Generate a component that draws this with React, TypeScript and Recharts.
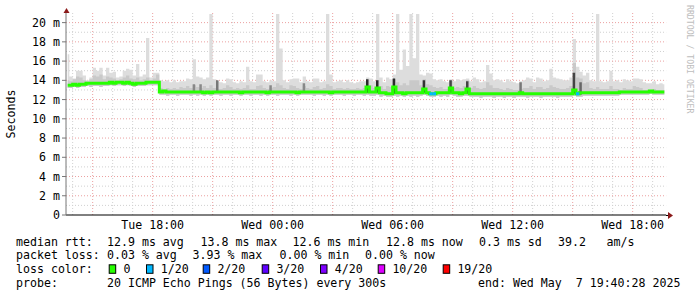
import { ComposedChart, Area, Bar, Line, Cell, XAxis, YAxis, CartesianGrid } from "recharts";

const FONT = '"DejaVu Sans Mono", monospace';

// hours since Tue 00:00, one sample every 10 minutes from Tue 13:40 to Wed 19:40
const START = 13 + 40 / 60;
const END = 43 + 40 / 60 + 28 / 3600;

const median = [
  13.5, 13.5, 13.6, 13.5, 13.6, 13.6, 13.7, 13.7, 13.7, 13.7, 13.7, 13.7, 13.7, 13.8, 13.7, 13.8, 13.8, 13.7,
  13.8, 13.7, 13.6, 13.7, 13.7, 13.7, 13.8, 13.8, 13.8, 13.8, 12.8, 12.9, 12.8, 12.8, 12.8, 12.8, 12.8, 12.8,
  12.8, 12.8, 12.8, 12.8, 12.8, 12.7, 12.8, 12.7, 12.8, 12.8, 12.8, 12.8, 12.8, 12.8, 12.8, 12.8, 12.7, 12.8,
  12.8, 12.8, 12.8, 12.8, 12.8, 12.8, 12.7, 12.8, 12.8, 12.8, 12.8, 12.8, 12.8, 12.8, 12.8, 12.7, 12.8, 12.8,
  12.8, 12.8, 12.8, 12.8, 12.8, 12.8, 12.8, 12.7, 12.8, 12.8, 12.8, 12.8, 12.8, 12.8, 12.8, 12.8, 12.8, 12.8,
  13.3, 12.8, 12.8, 13.2, 12.7, 12.7, 12.6, 12.6, 13.3, 12.7, 12.7, 12.6, 12.7, 12.7, 12.7, 12.7, 12.7, 13.1,
  12.7, 12.6, 12.6, 12.7, 12.7, 12.7, 12.7, 13.2, 12.7, 12.7, 12.6, 12.7, 13.1, 12.6, 12.6, 12.6, 12.6, 12.6,
  12.6, 12.6, 12.6, 12.6, 12.6, 12.6, 12.6, 12.6, 12.6, 12.6, 12.7, 12.6, 12.6, 12.6, 12.6, 12.6, 12.6, 12.6,
  12.6, 12.6, 12.6, 12.6, 12.6, 12.6, 12.6, 12.6, 13.0, 12.6, 12.7, 12.7, 12.7, 12.7, 12.7, 12.7, 12.7, 12.7,
  12.7, 12.7, 12.7, 12.7, 12.8, 12.8, 12.8, 12.8, 12.8, 12.8, 12.8, 12.8, 12.8, 12.9, 12.8, 12.8, 12.8, 12.8,
];

const smokeMax = [
  16.7, 14.4, 14.2, 15.0, 15.0, 14.5, 14.0, 14.3, 15.3, 15.0, 15.3, 14.5, 15.3, 14.8, 14.9, 14.3, 14.4, 15.0,
  15.2, 15.1, 14.5, 15.7, 14.4, 14.6, 18.4, 14.3, 14.8, 14.8, 14.0, 13.9, 14.0, 13.8, 14.0, 13.8, 13.9, 13.9,
  14.2, 14.1, 16.2, 14.4, 14.3, 14.1, 14.3, 20.9, 14.1, 13.9, 13.8, 13.7, 14.2, 14.1, 13.8, 13.7, 13.9, 13.8,
  15.4, 13.9, 13.8, 14.6, 14.6, 13.9, 13.8, 14.0, 13.9, 20.9, 17.3, 14.0, 13.8, 14.1, 14.2, 14.2, 13.8, 14.4,
  13.9, 13.8, 14.2, 14.2, 13.8, 13.9, 20.9, 14.6, 13.8, 13.9, 14.0, 13.8, 14.0, 13.8, 13.7, 13.8, 13.9, 13.9,
  14.3, 14.2, 13.9, 20.9, 14.3, 13.8, 14.3, 14.1, 14.6, 20.9, 15.1, 17.2, 15.5, 20.9, 16.3, 20.9, 14.6, 14.5,
  14.8, 14.7, 14.1, 14.0, 14.1, 13.9, 13.8, 14.1, 13.9, 14.1, 14.0, 14.1, 14.2, 13.9, 14.3, 14.1, 13.8, 13.9,
  15.6, 14.7, 14.0, 14.1, 14.0, 13.8, 14.1, 13.9, 13.8, 13.7, 13.9, 14.0, 14.3, 14.2, 13.8, 14.3, 14.2, 13.9,
  14.0, 15.2, 14.3, 14.2, 14.1, 14.0, 14.0, 14.3, 18.3, 15.4, 14.9, 14.5, 14.8, 14.0, 13.9, 20.9, 13.9, 13.8,
  13.9, 15.0, 13.9, 14.0, 13.8, 14.1, 14.0, 13.9, 14.2, 14.2, 14.1, 13.8, 13.7, 13.7, 13.9, 13.6, 13.7, 13.6,
];

const smokeQ3 = [
  14.0, 13.9, 14.1, 14.4, 14.3, 14.0, 13.9, 14.1, 14.5, 14.4, 14.6, 14.1, 14.4, 14.3, 14.2, 14.0, 14.1, 14.3,
  14.5, 14.2, 14.1, 14.3, 14.0, 14.1, 14.3, 14.0, 14.2, 14.6, 13.2, 13.1, 13.2, 13.1, 13.2, 13.1, 13.3, 13.2,
  13.4, 13.2, 13.5, 13.3, 13.2, 13.4, 13.2, 13.5, 13.2, 13.1, 13.1, 13.2, 13.5, 13.3, 13.1, 13.2, 13.1, 13.2,
  13.5, 13.1, 13.1, 13.4, 13.5, 13.2, 13.1, 13.2, 13.3, 13.7, 13.5, 13.2, 13.1, 13.5, 13.4, 13.2, 13.1, 13.4,
  13.2, 13.1, 13.3, 13.4, 13.1, 13.2, 13.6, 13.4, 13.1, 13.2, 13.2, 13.1, 13.2, 13.1, 13.1, 13.2, 13.1, 13.2,
  14.0, 13.5, 13.2, 14.0, 13.4, 13.1, 13.4, 13.3, 14.1, 13.8, 13.5, 13.7, 13.5, 14.0, 14.0, 14.0, 13.5, 14.1,
  13.6, 13.5, 13.3, 13.2, 13.3, 13.1, 13.1, 14.0, 13.2, 13.3, 13.2, 13.4, 14.0, 13.2, 13.4, 13.2, 13.1, 13.2,
  13.8, 13.5, 13.2, 13.2, 13.1, 13.0, 13.2, 13.1, 13.0, 13.0, 13.1, 13.2, 13.2, 13.4, 13.1, 13.3, 13.3, 13.1,
  13.2, 13.5, 13.3, 13.2, 13.1, 13.1, 13.2, 13.4, 15.8, 14.3, 14.2, 13.7, 13.8, 13.2, 13.1, 13.3, 13.1, 13.1,
  13.1, 13.4, 13.1, 13.1, 13.0, 13.2, 13.1, 13.1, 13.4, 13.3, 13.2, 13.0, 13.0, 13.0, 13.1, 13.0, 13.0, 13.0,
];

const smokeMin = [
  13.2, 13.2, 13.3, 13.2, 13.3, 13.3, 13.4, 13.3, 13.4, 13.4, 13.3, 13.4, 13.4, 13.5, 13.4, 13.5, 13.5, 13.4,
  13.5, 13.4, 13.3, 13.4, 13.4, 13.4, 13.5, 13.5, 13.5, 13.5, 12.5, 12.5, 12.4, 12.5, 12.5, 12.4, 12.5, 12.5,
  12.5, 12.4, 12.5, 12.4, 12.5, 12.4, 12.5, 12.4, 12.5, 12.5, 12.4, 12.5, 12.5, 12.4, 12.5, 12.5, 12.4, 12.5,
  12.5, 12.4, 12.5, 12.5, 12.4, 12.5, 12.4, 12.5, 12.5, 12.4, 12.5, 12.5, 12.5, 12.4, 12.5, 12.4, 12.5, 12.5,
  12.5, 12.5, 12.4, 12.5, 12.5, 12.4, 12.5, 12.4, 12.5, 12.5, 12.5, 12.4, 12.5, 12.5, 12.4, 12.5, 12.5, 12.4,
  12.5, 12.4, 12.4, 12.5, 12.3, 12.4, 12.3, 12.3, 12.4, 12.3, 12.4, 12.3, 12.4, 12.3, 12.4, 12.3, 12.4, 12.5,
  12.4, 12.3, 12.3, 12.4, 12.3, 12.4, 12.3, 12.5, 12.4, 12.3, 12.3, 12.4, 12.4, 12.3, 12.3, 12.3, 12.2, 12.3,
  12.3, 12.3, 12.2, 12.3, 12.3, 12.2, 12.3, 12.3, 12.2, 12.3, 12.3, 12.3, 12.2, 12.3, 12.3, 12.3, 12.2, 12.3,
  12.3, 12.3, 12.3, 12.2, 12.3, 12.3, 12.3, 12.3, 12.4, 12.3, 12.3, 12.4, 12.4, 12.4, 12.4, 12.4, 12.4, 12.4,
  12.4, 12.4, 12.4, 12.4, 12.5, 12.5, 12.5, 12.5, 12.5, 12.5, 12.5, 12.5, 12.5, 12.6, 12.5, 12.5, 12.5, 12.5,
];

// dense smoke around the median (sample index, top value, shade)
const darkIdx = [38, 40, 45, 61, 71, 90, 93, 98, 107, 115, 120, 136, 152, 154];
const darkTop = [13.6, 13.6, 14.0, 13.5, 13.7, 14.1, 14.0, 14.2, 14.0, 14.0, 13.9, 13.8, 14.8, 13.8];
const darkShade = ["#888", "#888", "#777", "#888", "#888", "#2a2a2a", "#2a2a2a", "#2a2a2a", "#333", "#444", "#444", "#777", "#444", "#666"];

// samples with packet loss (index, lost pings of 20)
const lossIdx = [109, 110, 153];
const lossCount = [1, 1, 1];

const lossLabels = ["0", "1/20", "2/20", "3/20", "4/20", "10/20", "19/20"];
const lossColors = ["#26ff00", "#00b8ff", "#0059ff", "#5e00ff", "#7e00ff", "#dd00ff", "#ff0000"];
const lossColorOf: Record<number, string> = { 0: lossColors[0], 1: lossColors[1], 2: lossColors[2], 3: lossColors[3], 4: lossColors[4], 10: lossColors[5], 19: lossColors[6] };

const xTicks = [18, 24, 30, 36, 42];
const xTickLabels = ["Tue 18:00", "Wed 00:00", "Wed 06:00", "Wed 12:00", "Wed 18:00"];
const yTicks = [0, 2, 4, 6, 8, 10, 12, 14, 16, 18, 20];

const statsRtt = ["median rtt:", "12.9 ms avg", "13.8 ms max", "12.6 ms min", "12.8 ms now", "0.3 ms sd", "39.2", "am/s"];
const statsLoss = ["packet loss:", "0.03 % avg", "3.93 % max", "0.00 % min", "0.00 % now"];
const probeText = ["probe:", "20 ICMP Echo Pings (56 Bytes) every 300s", "end: Wed May  7 19:40:28 2025"];

// layout
const rttX = [16, 107, 200.5, 292.5, 386, 479, 558, 606.5];
const lossX = [16, 107, 192.5, 279.5, 365];
const probeX = [16, 107, 478];
const boxX = [108.7, 146, 202.7, 261.7, 320, 377.7, 442.7];

const rows = median.map((m, i) => {
  const d = darkIdx.indexOf(i);
  const l = lossIdx.indexOf(i);
  return {
    t: START + (i + 0.5) / 6,
    median: m,
    smoke: [smokeMin[i], smokeMax[i]],
    mid: [smokeMin[i], smokeQ3[i]],
    dark: d >= 0 ? [smokeMin[i] + 0.2, darkTop[d]] : null,
    darkFill: d >= 0 ? darkShade[d] : "none",
    loss: l >= 0 ? m : null,
    lossColor: l >= 0 ? lossColorOf[lossCount[l]] : "none",
  };
});

const hours: number[] = [];
for (let h = 14; h <= 43; h++) hours.push(h);
const xMajor = hours.filter((h) => h % 3 === 0);
const xMinor = hours.filter((h) => h % 3 !== 0);
const yMajor = [2, 4, 6, 8, 10, 12, 14, 16, 18, 20];
const yMinor = [1, 3, 5, 7, 9, 11, 13, 15, 17, 19];

const LossDot = (props: any) => {
  const { cx, cy, payload, index } = props;
  if (cx == null || cy == null || payload.loss == null) return <g key={index} />;
  return <rect key={index} x={cx - 1.7} y={cy - 1.5} width={3.4} height={3} fill={payload.lossColor} />;
};

const txt = { fontFamily: FONT, fontSize: 11.6, fill: "#000", whiteSpace: "pre" } as const;

export default function App() {
  return (
    <div style={{ position: "absolute", left: 0, top: 0, width: 697, height: 297, background: "#fff" }}>
      <ComposedChart width={697} height={297} data={rows} margin={{ top: 13, right: 30.85, bottom: 62, left: 16 }}>
        <CartesianGrid stroke="#d0d0d0" strokeDasharray="1 2" horizontalValues={yMinor} verticalValues={xMinor} />
        <CartesianGrid stroke="#eba0a0" strokeDasharray="1 2" horizontalValues={yMajor} verticalValues={xMajor} />
        <XAxis
          type="number"
          dataKey="t"
          domain={[START, END]}
          allowDataOverflow
          ticks={xTicks}
          tickFormatter={(v) => xTickLabels[xTicks.indexOf(v)]}
          tickLine={false}
          tickSize={0}
          tickMargin={6}
          height={20}
          axisLine={{ stroke: "#000" }}
          tick={{ fill: "#000", fontFamily: FONT, fontSize: 11.6 }}
        />
        <YAxis
          type="number"
          domain={[0, 21]}
          allowDataOverflow
          ticks={yTicks}
          interval={0}
          tickFormatter={(v) => (v === 0 ? "0" : `${v} m`)}
          width={50}
          tickSize={4}
          tickMargin={2}
          tickLine={{ stroke: "#777" }}
          axisLine={{ stroke: "#777" }}
          tick={{ fill: "#000", fontFamily: FONT, fontSize: 11.6 }}
        />
        <Area type="step" dataKey="smoke" stroke="none" fill="#dddddd" fillOpacity={1} isAnimationActive={false} />
        <Area type="step" dataKey="mid" stroke="none" fill="#c9c9c9" fillOpacity={1} isAnimationActive={false} />
        <Bar dataKey="dark" barSize={2.5} isAnimationActive={false}>
          {rows.map((r, i) => (
            <Cell key={i} fill={r.darkFill} />
          ))}
        </Bar>
        <Line type="step" dataKey="median" stroke="#26ff00" strokeWidth={3} dot={false} isAnimationActive={false} />
        <Line dataKey="loss" stroke="none" dot={LossDot} activeDot={false} isAnimationActive={false} />
      </ComposedChart>

      <svg width={697} height={297} style={{ position: "absolute", left: 0, top: 0, pointerEvents: "none" }}>
        <polygon points="66.5,8 63.5,13 69.5,13" fill="#8b1a1a" />
        <line x1={666} y1={215.5} x2={669} y2={215.5} stroke="#000" />
        <polygon points="668,212 668,219 673,215.5" fill="#8b1a1a" />
        <text x={15} y={114} transform="rotate(-90 15 114)" textAnchor="middle" style={txt}>
          Seconds
        </text>
        <text
          x={687}
          y={5}
          transform="rotate(90 687 5)"
          style={{ fontFamily: FONT, fontSize: 8.2, fill: "#bdbdbd", whiteSpace: "pre" }}
        >
          RRDTOOL / TOBI OETIKER
        </text>
        {statsRtt.map((s, i) => (
          <text key={"r" + i} x={rttX[i]} y={245.5} style={txt}>
            {s}
          </text>
        ))}
        {statsLoss.map((s, i) => (
          <text key={"l" + i} x={lossX[i]} y={259.3} style={txt}>
            {s}
          </text>
        ))}
        <text x={16} y={273.3} style={txt}>
          loss color:
        </text>
        {lossLabels.map((s, i) => (
          <g key={"c" + i}>
            <rect x={boxX[i] + 0.5} y={264.8} width={6.5} height={8.5} fill={lossColors[i]} stroke="#000" />
            <text x={boxX[i] + 14.7} y={273.3} style={txt}>
              {s}
            </text>
          </g>
        ))}
        {probeText.map((s, i) => (
          <text key={"p" + i} x={probeX[i]} y={286.7} style={txt}>
            {s}
          </text>
        ))}
      </svg>
    </div>
  );
}
